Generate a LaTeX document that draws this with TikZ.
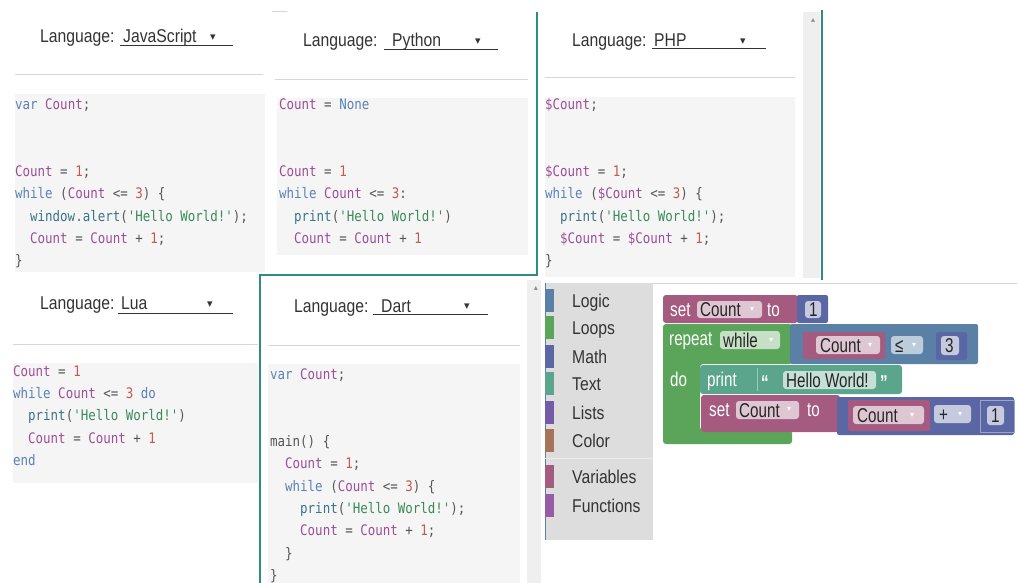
\documentclass[tikz,border=0pt]{standalone}
\usepackage{xcolor}
\usepackage{fontspec}
\usepackage{tikz}
\usetikzlibrary{positioning}
\setmainfont{Liberation Sans}
\newfontfamily\uifam[FakeStretch=0.85]{Liberation Sans}
\newfontfamily\blkfam[FakeStretch=0.76]{Liberation Sans}
\newfontfamily\codefam[FakeStretch=0.86]{DejaVu Sans Mono}
\newfontfamily\glyphfam{DejaVu Sans}

\definecolor{frameteal}{HTML}{2F8C85}
\definecolor{codebg}{HTML}{F5F5F5}
\definecolor{rulegray}{HTML}{D6D6D6}
\definecolor{codegray}{HTML}{555555}
\definecolor{kwblue}{HTML}{5B82B5}
\definecolor{varpurple}{HTML}{9C4F96}
\definecolor{numred}{HTML}{C25A4E}
\definecolor{strgreen}{HTML}{3A8A5C}
\definecolor{fnteal}{HTML}{3A7585}
\definecolor{scrollgray}{HTML}{EFEFEF}
\definecolor{tbgray}{HTML}{DDDDDD}
\definecolor{logiccol}{HTML}{5B80A5}
\definecolor{loopcol}{HTML}{5BA55B}
\definecolor{mathcol}{HTML}{5B67A5}
\definecolor{textcol}{HTML}{5BA58C}
\definecolor{listcol}{HTML}{745BA5}
\definecolor{colourcol}{HTML}{A5745B}
\definecolor{varcol}{HTML}{A55B80}
\definecolor{proccol}{HTML}{995BA5}

\newcommand{\ckw}[1]{\textcolor{kwblue}{#1}}
\newcommand{\cvar}[1]{\textcolor{varpurple}{#1}}
\newcommand{\cnum}[1]{\textcolor{numred}{#1}}
\newcommand{\cstr}[1]{\textcolor{strgreen}{#1}}
\newcommand{\cfn}[1]{\textcolor{fnteal}{#1}}
\newcommand{\ind}{\phantom{xx}}

\begin{document}
\begin{tikzpicture}[
    x=1pt, y=-1pt,
    langlbl/.style={font=\uifam\fontsize{18.5}{20}\selectfont, text=black!80, inner sep=0, anchor=base west},
    dropline/.style={draw=black!80, line width=1pt},
    droparrow/.style={font=\glyphfam\fontsize{11}{11}\selectfont, text=black!80, inner sep=0},
    sepline/.style={draw=rulegray, line width=1pt},
    code/.style={font=\codefam\fontsize{14.5}{22.4}\selectfont, text=codegray, align=left, inner sep=0, anchor=north west},
    tblabel/.style={font=\uifam\fontsize{18.5}{20}\selectfont, text=black!80, inner sep=0, anchor=base west},
    blklbl/.style={font=\blkfam\fontsize{20}{21}\selectfont, text=white, inner sep=0, anchor=base west},
    fldtxt/.style={font=\blkfam\fontsize{20}{21}\selectfont, text=black!85, inner sep=0, anchor=base west},
    fldarrow/.style={font=\glyphfam\fontsize{8}{8}\selectfont, text=white, inner sep=0},
    scrollup/.style={font=\glyphfam\fontsize{8}{8}\selectfont, text=black!45, inner sep=0}
]
\useasboundingbox (0,0) rectangle (1017,583);

% JavaScript panel
\node[langlbl] (jsLang) at (40,43) {Language:};
\node[langlbl] (jsName) at (123,43) {JavaScript};
\node[droparrow] (jsArrow) at (213,38) {▾};
\draw[dropline] (120,46) -- (233,46);
\draw[sepline] (15,75) -- (263,75);
\fill[codebg] (15,94) rectangle (265,272);
\node[code] (jsCode) at (15,93.3) {\strut\ckw{var} \cvar{Count};\\
\mbox{}\\
\mbox{}\\
\cvar{Count} = \cnum{1};\\
\ckw{while} (\cvar{Count} <= \cnum{3}) \{\\
\ind\cfn{window.alert}(\cstr{'Hello World!'});\\
\ind\cvar{Count} = \cvar{Count} + \cnum{1};\\
\}};

% Python panel
\draw[rulegray] (272,11) -- (287,11);
\node[langlbl] (pyLang) at (303,47) {Language:};
\node[langlbl] (pyName) at (392,47) {Python};
\node[droparrow] (pyArrow) at (478,42) {▾};
\draw[dropline] (384,50) -- (498,50);
\draw[sepline] (275,80) -- (528,80);
\fill[codebg] (277,98) rectangle (528,255);
\node[code] (pyCode) at (279,93.3) {\strut\cvar{Count} = \ckw{None}\\
\mbox{}\\
\mbox{}\\
\cvar{Count} = \cnum{1}\\
\ckw{while} \cvar{Count} <= \cnum{3}:\\
\ind\cfn{print}(\cstr{'Hello World!'})\\
\ind\cvar{Count} = \cvar{Count} + \cnum{1}};

% PHP panel
\fill[scrollgray] (803,12) rectangle (820,278);
\node[scrollup] (phpUp) at (813,20) {▴};
\node[langlbl] (phpLang) at (572,47) {Language:};
\node[langlbl] (phpName) at (654,47) {PHP};
\node[droparrow] (phpArrow) at (743,42) {▾};
\draw[dropline] (652,49) -- (766,49);
\draw[sepline] (545,78) -- (795,78);
\fill[codebg] (545,97) rectangle (795,277);
\node[code] (phpCode) at (545,93.3) {\strut\cvar{\$Count};\\
\mbox{}\\
\mbox{}\\
\cvar{\$Count} = \cnum{1};\\
\ckw{while} (\cvar{\$Count} <= \cnum{3}) \{\\
\ind\cfn{print}(\cstr{'Hello World!'});\\
\ind\cvar{\$Count} = \cvar{\$Count} + \cnum{1};\\
\}};

% Lua panel
\node[langlbl] (luaLang) at (40,309) {Language:};
\node[langlbl] (luaName) at (121,309) {Lua};
\node[droparrow] (luaArrow) at (210,305) {▾};
\draw[dropline] (118,313) -- (233,313);
\draw[sepline] (13,344) -- (258,344);
\fill[codebg] (13,363) rectangle (258,483);
\node[code] (luaCode) at (13,360.3) {\strut\cvar{Count} = \cnum{1}\\
\ckw{while} \cvar{Count} <= \cnum{3} \ckw{do}\\
\ind\cfn{print}(\cstr{'Hello World!'})\\
\ind\cvar{Count} = \cvar{Count} + \cnum{1}\\
\ckw{end}};

% Dart panel
\fill[scrollgray] (527,280) rectangle (541,583);
\node[scrollup] (dartUp) at (536,288) {▴};
\node[langlbl] (dartLang) at (294,312) {Language:};
\node[langlbl] (dartName) at (381,312) {Dart};
\node[droparrow] (dartArrow) at (467,307) {▾};
\draw[dropline] (373,314) -- (488,314);
\draw[sepline] (268,345) -- (520,345);
\fill[codebg] (268,364) rectangle (520,583);
\node[code] (dartCode) at (270,363.3) {\strut\ckw{var} \cvar{Count};\\
\mbox{}\\
\mbox{}\\
main() \{\\
\ind\cvar{Count} = \cnum{1};\\
\ind\ckw{while} (\cvar{Count} <= \cnum{3}) \{\\
\ind\ind\cfn{print}(\cstr{'Hello World!'});\\
\ind\ind\cvar{Count} = \cvar{Count} + \cnum{1};\\
\ind\}\\
\}};

% window frames
\draw[frameteal, line width=2.5pt] (537,12) -- (537,275) -- (260,275) -- (260,583);
\draw[frameteal, line width=2pt] (822,10) -- (822,280);

% Blockly toolbox
\draw[rulegray, line width=0.8pt] (545,283) -- (1017,283);
\fill[tbgray] (545,283) rectangle (653,540);
\draw[logiccol, line width=1pt] (545,283) -- (545,540);
\draw[white!40!tbgray, line width=1pt] (545,458) -- (653,458);
\foreach \lbl/\yc/\col in {Logic/301/logiccol, Loops/328/loopcol, Math/357/mathcol,
    Text/384/textcol, Lists/413/listcol, Color/441/colourcol,
    Variables/477/varcol, Functions/506/proccol} {
  \fill[\col] (545,\yc-12) rectangle (554,\yc+11);
  \node[tblabel] (tb\lbl) at (572,\yc+6.6) {\lbl};
}

% repeat while block
\fill[loopcol, rounded corners=3pt] (663,324) -- (792,324) -- (792,364) -- (700,364)
    -- (700,430) -- (792,430) -- (792,444) -- (663,444) -- cycle;
\node[blklbl] (rptLbl) at (669,345) {repeat};
\fill[loopcol!35!white, rounded corners=3pt] (720,331) rectangle (780,349);
\node[fldtxt] (rptMode) at (723,347) {while};
\node[fldarrow] (rptArrow) at (771,340) {▾};
\node[blklbl] (doLbl) at (670,386) {do};

% compare block
\fill[logiccol, rounded corners=2pt] (790,324) rectangle (978,364);
\fill[varcol, rounded corners=2pt] (803,332) rectangle (885,359);
\fill[varcol!35!white, rounded corners=3pt] (816,336) rectangle (880,354);
\node[fldtxt] (cmpVar) at (820,352) {Count};
\node[fldarrow] (cmpVarArrow) at (870,345) {▾};
\fill[logiccol!40!white, rounded corners=3pt] (891,336) rectangle (923,354);
\node[fldtxt] (cmpOp) at (895,352) {≤};
\node[fldarrow] (cmpOpArrow) at (914,345) {▾};
\fill[mathcol, rounded corners=2pt] (936,332) rectangle (967,360);
\fill[mathcol!35!white, rounded corners=3pt] (941,336) rectangle (959,355);
\node[fldtxt] (cmpNum) at (945,352) {3};

% set Count to 1
\fill[varcol, rounded corners=3pt] (663,295) rectangle (798,323);
\node[blklbl] (set1Lbl) at (670,316) {set};
\fill[varcol!35!white, rounded corners=3pt] (697,301) rectangle (762,318);
\node[fldtxt] (set1Var) at (700,316) {Count};
\node[fldarrow] (set1Arrow) at (752,309) {▾};
\node[blklbl] (set1To) at (767,316) {to};
\fill[mathcol, rounded corners=2pt] (797,295) rectangle (828,323);
\fill[mathcol!35!white, rounded corners=3pt] (805,301) rectangle (821,318);
\node[fldtxt] (set1Num) at (809,316) {1};

% print block
\fill[textcol, rounded corners=3pt] (700,365) rectangle (902,394);
\draw[textcol!60!white, line width=0.6pt] (757,368) -- (757,391);
\node[blklbl] (printLbl) at (707,386) {print};
\node[blklbl, font=\blkfam\bfseries\fontsize{20}{21}\selectfont] (quoteL) at (761,389) {“};
\fill[textcol!35!white, rounded corners=3pt] (783,371) rectangle (876,389);
\node[fldtxt] (helloTxt) at (786,387) {Hello World!};
\node[blklbl, font=\blkfam\bfseries\fontsize{20}{21}\selectfont] (quoteR) at (880,389) {”};

% set Count to Count + 1
\fill[varcol, rounded corners=3pt] (701,395) rectangle (840,432);
\node[blklbl] (set2Lbl) at (709,416) {set};
\fill[varcol!35!white, rounded corners=3pt] (736,401) rectangle (799,419);
\node[fldtxt] (set2Var) at (739,417) {Count};
\node[fldarrow] (set2Arrow) at (789,409) {▾};
\node[blklbl] (set2To) at (807,416) {to};
\fill[mathcol, rounded corners=2pt] (837,397) rectangle (1014,435);
\fill[varcol, rounded corners=2pt] (848,400) rectangle (930,431);
\fill[varcol!35!white, rounded corners=3pt] (853,406) rectangle (924,424);
\node[fldtxt] (addVar) at (857,422) {Count};
\node[fldarrow] (addVarArrow) at (912,415) {▾};
\fill[mathcol!35!white, rounded corners=3pt] (934,405) rectangle (971,423);
\node[fldtxt] (addOp) at (939,421) {+};
\node[fldarrow] (addOpArrow) at (960,414) {▾};
\fill[mathcol, rounded corners=2pt] (980,400) rectangle (1014,432);
\draw[mathcol!60!white, line width=0.6pt] (980,400) rectangle (1014,432);
\fill[mathcol!35!white, rounded corners=3pt] (987,406) rectangle (1004,425);
\node[fldtxt] (addNum) at (991,422) {1};
\end{tikzpicture}
\end{document}
